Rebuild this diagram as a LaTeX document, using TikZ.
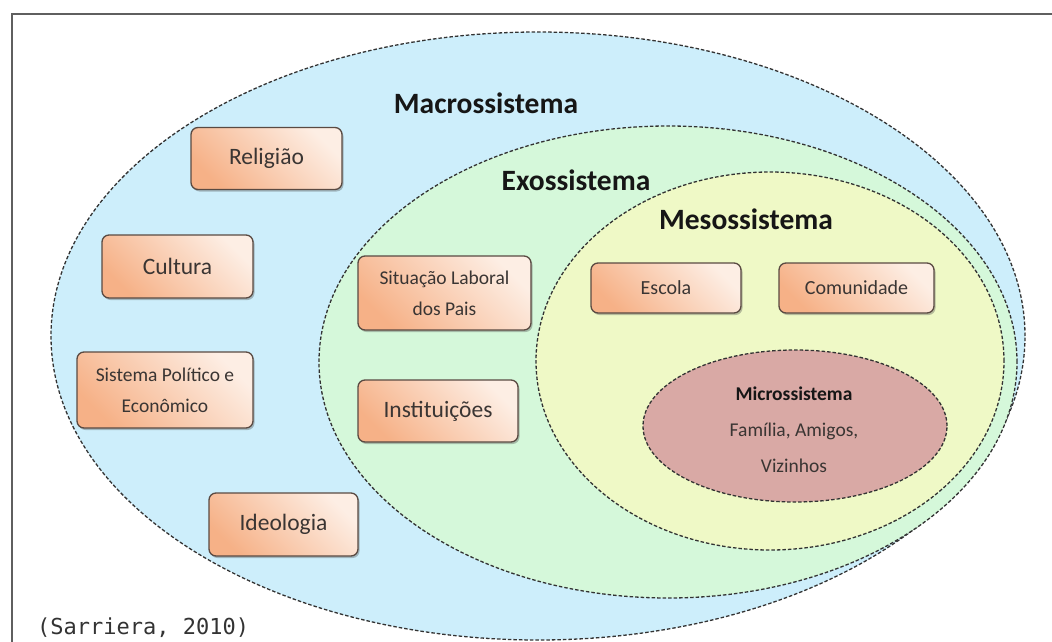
\documentclass[tikz,border=0pt]{standalone}
\usepackage{fontspec}
\setmainfont{Carlito}
\newfontfamily\capfont{DejaVu Sans Mono}
\usetikzlibrary{shadows}
\definecolor{macroC}{HTML}{CDEEFB}
\definecolor{exoC}{HTML}{D5F8DA}
\definecolor{mesoC}{HTML}{EFF9C6}
\definecolor{microC}{HTML}{D9A9A5}
\definecolor{dashC}{HTML}{333333}
\definecolor{frameC}{HTML}{5F5F5F}
\definecolor{boxborder}{HTML}{5A4A42}
\definecolor{boxdark}{HTML}{F6B187}
\definecolor{boxlight}{HTML}{FDEEE4}
\definecolor{boxtext}{HTML}{3A3533}
\definecolor{titleC}{HTML}{161616}
\begin{document}
\begin{tikzpicture}[x=1pt,y=-1pt,
  sys/.style={draw=dashC, line width=1.3pt, dash pattern=on 3.5pt off 2pt},
  title/.style={anchor=base, text=titleC, font=\fontsize{29.5}{34}\selectfont\bfseries, inner sep=0pt},
  box/.style={draw=boxborder, line width=1.3pt, rounded corners=7pt,
    left color=boxdark, right color=boxlight, shading angle=135,
    drop shadow={shadow xshift=1.5pt, shadow yshift=-2pt, opacity=0.35, fill=black!70},
    inner sep=0pt, text=boxtext, align=center},
  bigtxt/.style={font=\fontsize{23.5}{27}\selectfont},
  smalltxt/.style={font=\fontsize{19.5}{31}\selectfont},
  midtxt/.style={font=\fontsize{20}{24}\selectfont}]
\useasboundingbox (0,0) rectangle (1052,642);
\clip (0,0) rectangle (1052,642);
\fill[white] (0,0) rectangle (1052,642);
\draw[frameC, line width=2pt] (11.5,660) -- (11.5,14) -- (1070,14);

% ellipses
\draw[sys, fill=macroC] (538,336) ellipse [x radius=487pt, y radius=304pt];
\draw[sys, fill=exoC] (668,362) ellipse [x radius=349pt, y radius=236pt];
\draw[sys, fill=mesoC] (770,361) ellipse [x radius=234pt, y radius=189pt];
\draw[sys, fill=microC] (795,426) ellipse [x radius=152pt, y radius=76pt];

% titles
\node[title] (tmacro) at (486,113) {Macrossistema};
\node[title] (texo) at (576,190) {Exossistema};
\node[title] (tmeso) at (746,229) {Mesossistema};

% boxes
\node[box, bigtxt, minimum width=151pt, minimum height=62pt] (rel) at (266.5,158.5) {Religião};
\node[box, bigtxt, minimum width=151pt, minimum height=63pt] (cul) at (177.5,266.5) {Cultura};
\node[box, smalltxt, minimum width=176pt, minimum height=76pt] (sis) at (165,390) {Sistema Político e\\Econômico};
\node[box, bigtxt, minimum width=149pt, minimum height=63pt] (ide) at (283.5,524.5) {Ideologia};
\node[box, smalltxt, minimum width=173pt, minimum height=74pt] (sit) at (444.5,293) {Situação Laboral\\dos Pais};
\node[box, bigtxt, minimum width=160pt, minimum height=62pt] (ins) at (438,411) {Instituições};
\node[box, midtxt, minimum width=150pt, minimum height=50pt] (esc) at (666,288) {Escola};
\node[box, midtxt, minimum width=155pt, minimum height=50pt] (com) at (856.5,288) {Comunidade};

% micro text
\node[align=center, text=boxtext, inner sep=0pt, font=\fontsize{19.5}{36}\selectfont] (micro) at (794,430)
  {\textbf{\textcolor{titleC}{Microssistema}}\\Família, Amigos,\\Vizinhos};

% caption
\node[anchor=base west, inner sep=0pt, text=black!80, font=\capfont\fontsize{22}{26}\selectfont] (cap) at (37,634) {(Sarriera, 2010)};
\end{tikzpicture}
\end{document}
